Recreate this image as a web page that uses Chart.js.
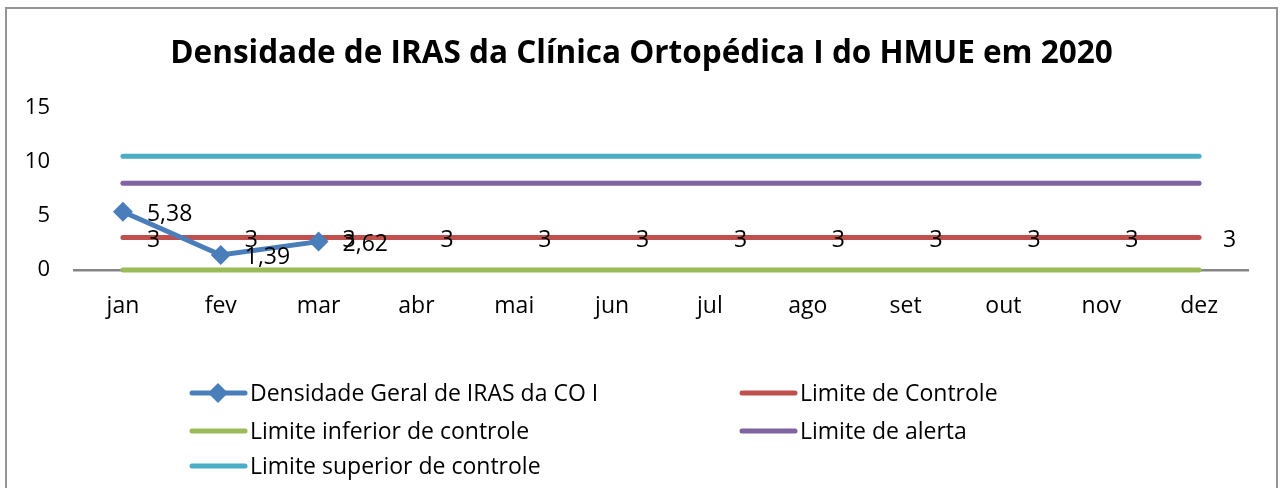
<!DOCTYPE html>
<html>
<head>
<meta charset="utf-8">
<script src="https://cdn.jsdelivr.net/npm/chart.js@4.4.0/dist/chart.umd.min.js"></script>
<style>
  html, body { margin: 0; padding: 0; background: #fff; }
  #wrap { width: 1283px; height: 488px; }
</style>
</head>
<body>
<div id="wrap"><canvas id="myChart" width="1283" height="488"></canvas></div>
<script>
// DATA
const months = ["jan", "fev", "mar", "abr", "mai", "jun", "jul", "ago", "set", "out", "nov", "dez"];
const densidadeGeral = [5.38, 1.39, 2.62, null, null, null, null, null, null, null, null, null];
const limiteControle = [3, 3, 3, 3, 3, 3, 3, 3, 3, 3, 3, 3];
const limiteInferior = [0, 0, 0, 0, 0, 0, 0, 0, 0, 0, 0, 0];
const limiteAlerta = [8, 8, 8, 8, 8, 8, 8, 8, 8, 8, 8, 8];
const limiteSuperior = [10.5, 10.5, 10.5, 10.5, 10.5, 10.5, 10.5, 10.5, 10.5, 10.5, 10.5, 10.5];
const yTicks = [0, 5, 10, 15];
const chartTitle = "Densidade de IRAS da Clínica Ortopédica I do HMUE em 2020";

const FONT = "'Open Sans', 'Liberation Sans', sans-serif";
const TXT = 23;

const fmt = (v) => String(v).replace(".", ",");

// border, title, data labels and legend
const extras = {
    id: "extras",
    beforeDraw(chart) {
        const ctx = chart.ctx;
        ctx.save();
        ctx.fillStyle = "#fff";
        ctx.fillRect(0, 0, chart.width, chart.height);
        ctx.strokeStyle = "#959595";
        ctx.lineWidth = 2;
        ctx.strokeRect(6, 8, 1271, 520);
        // title centred on the whole frame
        ctx.fillStyle = "#000";
        ctx.font = "bold 31.5px " + FONT;
        ctx.textAlign = "center";
        ctx.textBaseline = "middle";
        ctx.fillText(chartTitle, chart.width / 2, 54);
        ctx.restore();
    },
    afterDatasetsDraw(chart) {
        const ctx = chart.ctx;
        ctx.save();
        ctx.font = TXT + "px " + FONT;
        ctx.fillStyle = "#000";
        ctx.textAlign = "left";
        ctx.textBaseline = "middle";
        chart.data.datasets.forEach((ds, i) => {
            if (!ds.showLabels) return;
            const meta = chart.getDatasetMeta(i);
            meta.data.forEach((pt, j) => {
                const v = ds.data[j];
                if (v === null || v === undefined) return;
                ctx.fillText(fmt(v), pt.x + 24, pt.y + 3);
            });
        });
        ctx.restore();
    },
    afterDraw(chart) {
        const ctx = chart.ctx;
        const cols = [190, 740];
        const rows = [393, 431, 466];
        ctx.save();
        ctx.font = TXT + "px " + FONT;
        ctx.textBaseline = "middle";
        ctx.textAlign = "left";
        chart.data.datasets.forEach((ds, i) => {
            const x = cols[i % 2];
            const y = rows[Math.floor(i / 2)];
            ctx.strokeStyle = ds.borderColor;
            ctx.lineWidth = 5;
            ctx.lineCap = "round";
            ctx.beginPath();
            ctx.moveTo(x + 2, y);
            ctx.lineTo(x + 55, y);
            ctx.stroke();
            if (ds.pointStyle === "rectRot") {
                ctx.fillStyle = ds.borderColor;
                ctx.beginPath();
                ctx.moveTo(x + 28, y - 10);
                ctx.lineTo(x + 38, y);
                ctx.lineTo(x + 28, y + 10);
                ctx.lineTo(x + 18, y);
                ctx.closePath();
                ctx.fill();
            }
            ctx.fillStyle = "#000";
            ctx.fillText(ds.label, x + 60, y + 1);
        });
        ctx.restore();
    }
};

const limitLine = (label, data, color) => ({
    label: label,
    data: data,
    borderColor: color,
    backgroundColor: color,
    borderWidth: 5,
    pointRadius: 0,
    borderCapStyle: "round",
    tension: 0,
    clip: false
});

const config = {
    type: "line",
    data: {
        labels: months,
        datasets: [
            {
                label: "Densidade Geral de IRAS da CO I",
                data: densidadeGeral,
                borderColor: "#4a7ebb",
                backgroundColor: "#4a7ebb",
                borderWidth: 5,
                pointStyle: "rectRot",
                pointRadius: 10,
                pointBorderWidth: 0,
                spanGaps: false,
                clip: false,
                showLabels: true
            },
            Object.assign(limitLine("Limite de Controle", limiteControle, "#c0504d"), { showLabels: true }),
            limitLine("Limite inferior de controle", limiteInferior, "#9bbb59"),
            limitLine("Limite de alerta", limiteAlerta, "#8064a2"),
            limitLine("Limite superior de controle", limiteSuperior, "#4bacc6")
        ]
    },
    options: {
        responsive: false,
        animation: false,
        layout: { padding: { top: 107.5, right: 35, bottom: 0, left: 0 } },
        plugins: {
            legend: { display: false },
            tooltip: { enabled: false },
            title: { display: false }
        },
        scales: {
            x: {
                offset: true,
                grid: { display: false, drawTicks: false },
                border: { display: true, color: "#868686", width: 2.5 },
                ticks: { color: "#000", font: { family: FONT, size: TXT }, padding: 23, maxRotation: 0 },
                afterFit: (s) => { s.height = 218; }
            },
            y: {
                min: 0,
                max: 15,
                afterBuildTicks: (s) => { s.ticks = yTicks.map((v) => ({ value: v })); },
                grid: { display: false, drawTicks: false },
                border: { display: false },
                ticks: { color: "#000", font: { family: FONT, size: 22 }, padding: 24 },
                afterFit: (s) => { s.width = 74; }
            }
        }
    },
    plugins: [extras]
};

var myChart = new Chart(document.querySelector("#myChart"), config);
</script>
</body>
</html>
